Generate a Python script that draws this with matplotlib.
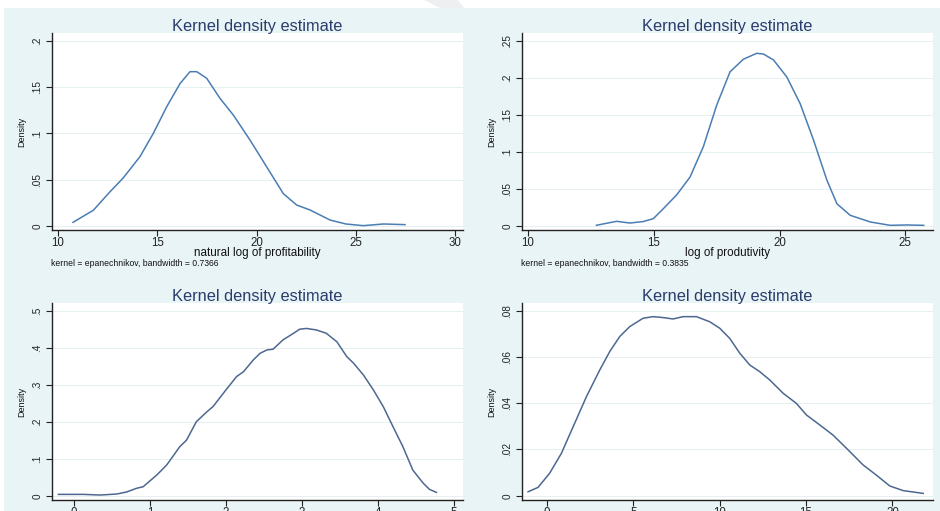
import matplotlib
matplotlib.use("Agg")
import matplotlib.pyplot as plt
from matplotlib.patches import Rectangle, Polygon

plt.rcParams['font.family'] = ['Liberation Sans', 'DejaVu Sans']

# ---------------- data ----------------
title_text = "Kernel density estimate"
ylabel_text = "Density"

# Panel 1: natural log of profitability
prof_x = [10.76, 11.78, 12.62, 13.29, 14.13, 14.80, 15.48, 16.15, 16.65, 16.99,
          17.49, 18.16, 18.83, 19.67, 20.51, 21.35, 22.02, 22.70, 23.70, 24.50,
          25.38, 26.40, 27.48]
prof_y = [0.004, 0.017, 0.037, 0.052, 0.075, 0.100, 0.129, 0.154, 0.1668, 0.1668,
          0.1597, 0.138, 0.120, 0.093, 0.064, 0.035, 0.0227, 0.0173, 0.0065, 0.0022,
          0.0004, 0.0022, 0.0015]
prof_xticks = [10, 15, 20, 25, 30]
prof_yticks = [0, 0.05, 0.1, 0.15, 0.2]
prof_yticklabels = ["0", ".05", ".1", ".15", ".2"]
prof_xlabel = "natural log of profitability"
prof_note = "kernel = epanechnikov, bandwidth = 0.7366"

# Panel 2: log of productivity
prod_x = [12.72, 13.52, 14.05, 14.58, 14.98, 15.38, 15.91, 16.44, 16.97, 17.50,
          18.03, 18.56, 19.09, 19.36, 19.76, 20.29, 20.82, 21.35, 21.88, 22.28,
          22.81, 23.61, 24.40, 25.07, 25.73]
prod_y = [0.001, 0.0063, 0.004, 0.006, 0.0099, 0.0234, 0.042, 0.066, 0.107, 0.163,
          0.208, 0.225, 0.233, 0.232, 0.224, 0.201, 0.165, 0.116, 0.062, 0.030,
          0.0144, 0.0054, 0.0009, 0.0014, 0.0009]
prod_xticks = [10, 15, 20, 25]
prod_yticks = [0, 0.05, 0.1, 0.15, 0.2, 0.25]
prod_yticklabels = ["0", ".05", ".1", ".15", ".2", ".25"]
prod_xlabel = "log of produtivity"
prod_note = "kernel = epanechnikov, bandwidth = 0.3835"

# Panel 3
p3_x = [-0.206, 0.123, 0.342, 0.56, 0.69, 0.82, 0.91, 1.09, 1.22, 1.39, 1.48, 1.61,
        1.75, 1.83, 2.00, 2.14, 2.23, 2.36, 2.45, 2.54, 2.62, 2.75, 2.89, 2.97,
        3.06, 3.19, 3.32, 3.46, 3.59, 3.68, 3.81, 3.94, 4.07, 4.20, 4.33, 4.46,
        4.60, 4.68, 4.77]
p3_y = [0.0036, 0.0036, 0.0018, 0.0045, 0.0099, 0.0198, 0.0243, 0.056, 0.083,
        0.132, 0.150, 0.200, 0.227, 0.241, 0.286, 0.322, 0.335, 0.367, 0.385,
        0.394, 0.396, 0.421, 0.439, 0.450, 0.452, 0.448, 0.439, 0.416, 0.376,
        0.358, 0.326, 0.286, 0.241, 0.186, 0.132, 0.069, 0.033, 0.017, 0.009]
p3_xticks = [0, 1, 2, 3, 4, 5]
p3_yticks = [0, 0.1, 0.2, 0.3, 0.4, 0.5]
p3_yticklabels = ["0", ".1", ".2", ".3", ".4", ".5"]

# Panel 4
p4_x = [-1.10, -0.52, 0.15, 0.83, 1.51, 2.28, 3.05, 3.63, 4.21, 4.79, 5.56, 6.14,
        6.72, 7.30, 7.88, 8.65, 9.42, 10.00, 10.58, 11.16, 11.74, 12.32, 12.90,
        13.67, 14.44, 15.02, 15.79, 16.56, 17.34, 18.30, 19.07, 19.85, 20.62, 21.78]
p4_y = [0.0017, 0.0036, 0.0097, 0.0183, 0.0298, 0.0428, 0.0543, 0.0623, 0.0688,
        0.0731, 0.0767, 0.0774, 0.0770, 0.0764, 0.0774, 0.0774, 0.0752, 0.0724,
        0.0680, 0.0616, 0.0565, 0.0536, 0.0500, 0.0443, 0.0399, 0.0349, 0.0306,
        0.0262, 0.0205, 0.0133, 0.0089, 0.0042, 0.0022, 0.0010]
p4_xticks = [0, 5, 10, 15, 20]
p4_yticks = [0, 0.02, 0.04, 0.06, 0.08]
p4_yticklabels = ["0", ".02", ".04", ".06", ".08"]

# ---------------- figure ----------------
W, H = 940, 511
BG = '#e9f4f6'
fig = plt.figure(figsize=(W / 100, H / 100), dpi=100, facecolor=BG)

# white screenshot margins and faint artifact at top
fig.patches.append(Rectangle((0, 1 - 8 / H), 1, 8 / H, transform=fig.transFigure,
                             facecolor='white', edgecolor='none', zorder=0))
fig.patches.append(Rectangle((0, 0), 4 / W, 1, transform=fig.transFigure,
                             facecolor='white', edgecolor='none', zorder=0))
fig.patches.append(Polygon([(424 / W, 1), (458 / W, 1), (464 / W, 1 - 8 / H), (440 / W, 1 - 8 / H)],
                           closed=True, transform=fig.transFigure,
                           facecolor='#eeeff0', edgecolor='none', zorder=0))

TITLE_C = '#2a3c6c'
TEXT_C = '#111111'


def px(x, y):
    return x / W, 1 - y / H


def make_panel(ox, oy, xs, ys, xticks, yticks, yticklabels, xlim, ylim, color,
               xlabel=None, note=None):
    # plot area in pixels relative to panel origin: x 52..463, y 33..230
    left, right, top, bottom = 52, 463, 33, 230
    ax = fig.add_axes([(ox + left) / W, 1 - (oy + bottom) / H,
                       (right - left) / W, (bottom - top) / H])
    ax.set_facecolor('white')
    ax.plot(xs, ys, color=color, lw=1.1, solid_joinstyle='round')
    ax.set_xlim(*xlim)
    ax.set_ylim(*ylim)
    ax.set_xticks(xticks)
    ax.set_xticklabels([str(t) for t in xticks])
    ax.set_yticks(yticks)
    ax.set_yticklabels(yticklabels, rotation=90, va='center')
    for y in yticks:
        ax.axhline(y, color='#e6f0f2', lw=0.7, zorder=0)
    for s in ['top', 'right']:
        ax.spines[s].set_visible(False)
    for s in ['left', 'bottom']:
        ax.spines[s].set_color('#222222')
        ax.spines[s].set_linewidth(1.0)
    ax.tick_params(axis='x', length=4, width=0.8, labelsize=8.3, pad=0.8, colors='#222222')
    ax.tick_params(axis='y', length=4, width=0.8, labelsize=7.2, pad=3, colors='#222222')
    ax.set_ylabel(ylabel_text, fontsize=6.5, labelpad=4, color=TEXT_C)
    cx = ox + (left + right) / 2
    fig.text(*px(cx, oy + 26), title_text, ha='center', va='center',
             fontsize=11.8, color=TITLE_C)
    if xlabel:
        fig.text(*px(cx, oy + 253), xlabel, ha='center', va='center',
                 fontsize=8.4, color=TEXT_C)
    if note:
        fig.text(*px(ox + 51, oy + 264), note, ha='left', va='center',
                 fontsize=6.2, color=TEXT_C)
    return ax


make_panel(0, 0, prof_x, prof_y, prof_xticks, prof_yticks, prof_yticklabels,
           (9.70, 30.40), (-0.0043, 0.2086), '#4a7db3', prof_xlabel, prof_note)
make_panel(470, 0, prod_x, prod_y, prod_xticks, prod_yticks, prod_yticklabels,
           (9.76, 26.10), (-0.0054, 0.2604), '#4a7db3', prod_xlabel, prod_note)
make_panel(0, 270, p3_x, p3_y, p3_xticks, p3_yticks, p3_yticklabels,
           (-0.29, 5.12), (-0.0116, 0.5208), '#4d6890')
make_panel(470, 270, p4_x, p4_y, p4_xticks, p4_yticks, p4_yticklabels,
           (-1.45, 22.35), (-0.00186, 0.0833), '#4d6890')

fig.savefig('out.png', dpi=100, facecolor=fig.get_facecolor())
